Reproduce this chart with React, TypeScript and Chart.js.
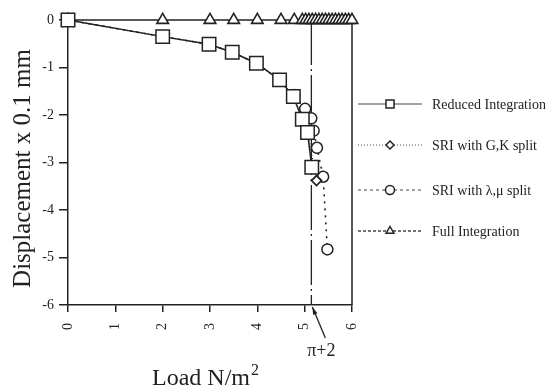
import React, { useEffect, useRef } from 'react';
import { Chart, registerables } from 'chart.js';

Chart.register(...registerables);

// ---- data ----
const xTickValues = [0, 1, 2, 3, 4, 5, 6];
const yTickValues = [0, -1, -2, -3, -4, -5, -6];

const reducedX = [0, 2, 2.98, 3.47, 3.98, 4.47, 4.76, 4.95, 5.06, 5.15];
const reducedY = [0, -0.35, -0.51, -0.68, -0.91, -1.26, -1.61, -2.09, -2.37, -3.1];

const gkX = [0, 2, 2.98, 3.47, 3.98, 4.47, 4.76, 4.95, 5.06, 5.25];
const gkY = [0, -0.35, -0.51, -0.68, -0.91, -1.26, -1.61, -2.09, -2.37, -3.38];

const lmX = [0, 2, 2.98, 3.47, 3.98, 4.47, 4.78, 5.01, 5.14, 5.19, 5.26, 5.39, 5.48];
const lmY = [0, -0.35, -0.51, -0.68, -0.91, -1.26, -1.58, -1.87, -2.07, -2.33, -2.69, -3.3, -4.83];

const fullX = [0, 2, 3, 3.5, 4, 4.5, 4.78, 4.95, 5.02, 5.09, 5.16, 5.23, 5.3, 5.37, 5.44, 5.51, 5.58, 5.65, 5.72, 5.79, 5.86, 5.93, 6];
const fullY = [0, 0, 0, 0, 0, 0, 0, 0, 0, 0, 0, 0, 0, 0, 0, 0, 0, 0, 0, 0, 0, 0, 0];

const seriesLabels = ['Reduced Integration', 'SRI with G,K split', 'SRI with \u03bb,\u03bc split', 'Full Integration'];
const criticalLoad = Math.PI + 2;
const criticalLabel = '\u03c0+2';
const xTitle = 'Load N/m';
const xTitleSup = '2';
const yTitle = 'Displacement x 0.1 mm';

const INK = '#222';
const SERIF = "'Liberation Serif', 'Times New Roman', serif";

const toPts = (xs: number[], ys: number[]) => xs.map((x, i) => ({ x, y: ys[i] }));

const legendSpec = [
  { style: 'rect', radius: 5.7, dash: [] as number[], width: 1.2 },
  { style: 'rectRot', radius: 4, dash: [1, 2], width: 1 },
  { style: 'circle', radius: 4.5, dash: [3, 3], width: 1 },
  { style: 'triangle', radius: 4.5, dash: [3, 2], width: 1.3 },
];
const legendRows = [104, 145, 190, 231];

function drawMarker(ctx: CanvasRenderingContext2D, style: string, r: number, x: number, y: number) {
  ctx.beginPath();
  if (style === 'rect') {
    const s = r * Math.SQRT1_2;
    ctx.rect(x - s, y - s, 2 * s, 2 * s);
  } else if (style === 'rectRot') {
    ctx.moveTo(x - r, y);
    ctx.lineTo(x, y - r);
    ctx.lineTo(x + r, y);
    ctx.lineTo(x, y + r);
    ctx.closePath();
  } else if (style === 'circle') {
    ctx.arc(x, y, r, 0, Math.PI * 2);
  } else {
    ctx.moveTo(x, y - r);
    ctx.lineTo(x + r * 0.866, y + r / 2);
    ctx.lineTo(x - r * 0.866, y + r / 2);
    ctx.closePath();
  }
  ctx.fill();
  ctx.stroke();
}

const decorPlugin = {
  id: 'decor',
  beforeDatasetsDraw(chart: any) {
    const { ctx, chartArea, scales } = chart;
    const xs = scales.x;
    ctx.save();
    ctx.strokeStyle = INK;
    ctx.lineWidth = 1.5;
    ctx.beginPath();
    ctx.moveTo(chartArea.right, chartArea.top);
    ctx.lineTo(chartArea.right, chartArea.bottom);
    ctx.stroke();
    const cx = xs.getPixelForValue(criticalLoad);
    ctx.lineWidth = 1.3;
    ctx.setLineDash([45, 4, 2, 4]);
    ctx.beginPath();
    ctx.moveTo(cx, chartArea.top);
    ctx.lineTo(cx, chartArea.bottom);
    ctx.stroke();
    ctx.restore();
  },
  afterDraw(chart: any) {
    const { ctx, chartArea, scales } = chart;
    const xs = scales.x;
    ctx.save();
    ctx.fillStyle = INK;
    ctx.strokeStyle = INK;

    // y title
    ctx.save();
    ctx.translate(23, (chartArea.top + chartArea.bottom) / 2 + 6);
    ctx.rotate(-Math.PI / 2);
    ctx.font = `25px ${SERIF}`;
    ctx.textAlign = 'center';
    ctx.textBaseline = 'middle';
    ctx.fillText(yTitle, 0, 0);
    ctx.restore();

    // x title with superscript
    ctx.font = `24px ${SERIF}`;
    const w1 = ctx.measureText(xTitle).width;
    ctx.font = `16px ${SERIF}`;
    const w2 = ctx.measureText(xTitleSup).width;
    const startX = 205 - (w1 + w2) / 2;
    ctx.textAlign = 'left';
    ctx.textBaseline = 'alphabetic';
    ctx.font = `24px ${SERIF}`;
    ctx.fillText(xTitle, startX, 385);
    ctx.font = `16px ${SERIF}`;
    ctx.fillText(xTitleSup, startX + w1 + 1, 375);

    // critical label and arrow
    const cx = xs.getPixelForValue(criticalLoad);
    ctx.font = `18px ${SERIF}`;
    ctx.textAlign = 'center';
    ctx.fillText(criticalLabel, cx + 10, 356);
    const tipX = cx + 1, tipY = chartArea.bottom + 2;
    const tailX = cx + 14, tailY = 338;
    ctx.lineWidth = 1.3;
    ctx.beginPath();
    ctx.moveTo(tailX, tailY);
    ctx.lineTo(tipX, tipY);
    ctx.stroke();
    const ang = Math.atan2(tipY - tailY, tipX - tailX);
    ctx.beginPath();
    ctx.moveTo(tipX, tipY);
    ctx.lineTo(tipX - 8 * Math.cos(ang - 0.3), tipY - 8 * Math.sin(ang - 0.3));
    ctx.lineTo(tipX - 8 * Math.cos(ang + 0.3), tipY - 8 * Math.sin(ang + 0.3));
    ctx.closePath();
    ctx.fill();

    // legend
    const lx0 = 358, lx1 = 422, mx = 390, tx = 432;
    ctx.font = `14px ${SERIF}`;
    ctx.textAlign = 'left';
    ctx.textBaseline = 'middle';
    legendSpec.forEach((spec, i) => {
      const y = legendRows[i];
      ctx.save();
      ctx.strokeStyle = '#444';
      ctx.lineWidth = spec.width;
      ctx.setLineDash(spec.dash);
      ctx.beginPath();
      ctx.moveTo(lx0, y);
      ctx.lineTo(lx1, y);
      ctx.stroke();
      ctx.restore();
      ctx.save();
      ctx.fillStyle = '#fff';
      ctx.strokeStyle = INK;
      ctx.lineWidth = 1.5;
      drawMarker(ctx, spec.style, spec.radius, mx, y);
      ctx.restore();
      ctx.fillStyle = INK;
      ctx.fillText(seriesLabels[i], tx, y + 1);
    });
    ctx.restore();
  },
};

export default function App() {
  const ref = useRef<HTMLCanvasElement>(null);
  useEffect(() => {
    document.body.style.margin = '0';
    const canvas = ref.current!;
    const chart = new Chart(canvas, {
      type: 'scatter',
      data: {
        datasets: [
          {
            label: seriesLabels[0],
            data: toPts(reducedX, reducedY),
            showLine: true,
            borderColor: INK,
            borderWidth: 1.5,
            pointStyle: 'rect',
            pointRadius: 9.5,
            pointBorderWidth: 1.5,
            pointBackgroundColor: '#fff',
            pointBorderColor: INK,
            clip: false,
          },
          {
            label: seriesLabels[1],
            data: toPts(gkX, gkY),
            showLine: true,
            borderColor: INK,
            borderWidth: 1.2,
            borderDash: [1, 2],
            pointStyle: 'rectRot',
            pointRadius: 5,
            pointBorderWidth: 1.8,
            pointBackgroundColor: '#fff',
            pointBorderColor: INK,
            clip: false,
          },
          {
            label: seriesLabels[2],
            data: toPts(lmX, lmY),
            showLine: true,
            borderColor: INK,
            borderWidth: 1.6,
            borderDash: [2, 5],
            pointStyle: 'circle',
            pointRadius: 5.5,
            pointBorderWidth: 1.5,
            pointBackgroundColor: '#fff',
            pointBorderColor: INK,
            clip: false,
          },
          {
            label: seriesLabels[3],
            data: toPts(fullX, fullY),
            showLine: true,
            borderColor: INK,
            borderWidth: 1.5,
            pointStyle: 'triangle',
            pointRadius: 6.7,
            pointBorderWidth: 1.6,
            pointBackgroundColor: '#fff',
            pointBorderColor: INK,
            clip: false,
          },
        ],
      },
      options: {
        responsive: false,
        animation: false,
        devicePixelRatio: 1,
        layout: { padding: { left: 0, right: 197, top: 20, bottom: 0 } },
        plugins: { legend: { display: false }, tooltip: { enabled: false } },
        scales: {
          x: {
            type: 'linear',
            min: 0,
            max: 6,
            afterFit: (s: any) => { s.height = 83; },
            afterBuildTicks: (s: any) => { s.ticks = xTickValues.map((v) => ({ value: v })); },
            border: { display: true, color: INK, width: 1.5 },
            grid: { drawOnChartArea: false, drawTicks: true, tickLength: 7, color: INK, lineWidth: 1.5 },
            ticks: {
              autoSkip: false,
              minRotation: 90,
              maxRotation: 90,
              padding: 11,
              color: INK,
              font: { family: SERIF, size: 14 },
              callback: (v: any) => String(v),
            },
          },
          y: {
            type: 'linear',
            min: -6,
            max: 0,
            afterFit: (s: any) => { s.width = 68; },
            afterBuildTicks: (s: any) => { s.ticks = yTickValues.map((v) => ({ value: v })); },
            border: { display: true, color: INK, width: 1.5 },
            grid: { drawOnChartArea: false, drawTicks: true, tickLength: 9, color: INK, lineWidth: 1.5 },
            ticks: {
              padding: 5,
              color: INK,
              font: { family: SERIF, size: 14 },
              callback: (v: any) => String(v),
            },
          },
        },
      },
      plugins: [decorPlugin],
    });
    return () => chart.destroy();
  }, []);
  return (
    <div style={{ width: 549, height: 388, background: '#fff' }}>
      <canvas ref={ref} width={549} height={388} />
    </div>
  );
}
